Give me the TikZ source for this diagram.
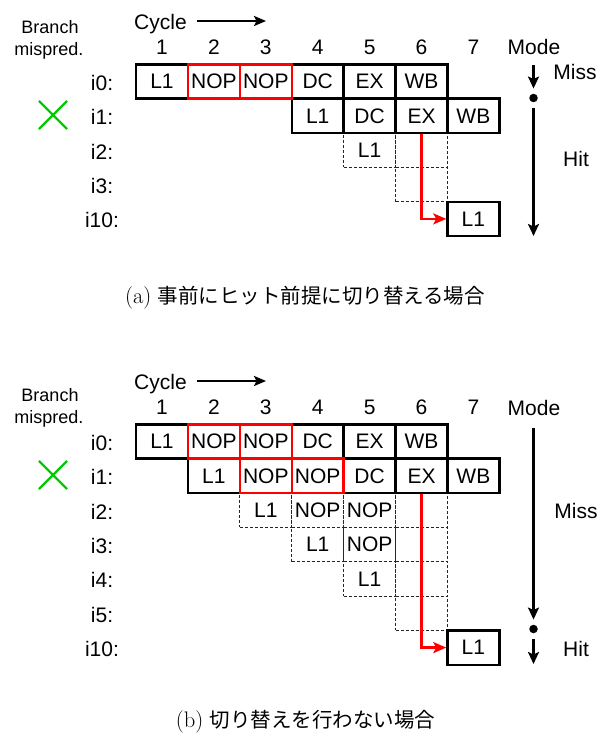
\documentclass[tikz,border=0pt]{standalone}
\usepackage{fontspec}
\newfontfamily\arial{Liberation Sans}
\newfontfamily\cjk{Noto Sans CJK JP}
\usetikzlibrary{arrows.meta,shapes.misc}
\definecolor{xred}{RGB}{255,0,0}
\definecolor{xgreen}{RGB}{0,204,0}
\tikzset{
  cell/.style={draw=black, line width=2.4pt, minimum width=51.9pt, minimum height=34.35pt, inner sep=0pt},
  redcell/.style={cell, draw=xred},
  dcell/.style={draw=black!85, line width=1pt, dash pattern=on 3pt off 2pt, minimum width=51.9pt, minimum height=34.35pt, inner sep=0pt},
  lbl/.style={anchor=base, inner sep=0pt},
  smalllbl/.style={anchor=base, inner sep=0pt, font=\arial\fontsize{18}{22}\selectfont},
  marr/.style={line width=2.3pt, -{Stealth[length=12pt,width=11pt,inset=2.5pt]}},
  carr/.style={line width=2.3pt, -{Stealth[length=12pt,width=10pt,inset=2.5pt]}},
  rarr/.style={line width=2.3pt, draw=xred, -{Stealth[length=13pt,width=11pt,inset=3pt]}},
  mdot/.style={circle, fill=black, inner sep=0pt, minimum size=8.5pt},
  xmark/.style={cross out, draw=xgreen, line width=2.2pt, minimum size=26pt, inner sep=0pt},
  capt/.style={inner sep=0pt, font=\fontsize{20.5}{24}\selectfont}
}
\newcommand{\capsub}[1]{{\rmfamily\fontsize{22.5}{24}\selectfont #1}}
\begin{document}
\begin{tikzpicture}[x=1pt, y=-1pt, font=\arial\fontsize{21}{25}\selectfont]
\useasboundingbox (0,0) rectangle (608,735);
% ================= (a) =================
\begin{scope}
\node[smalllbl] (tbr1) at (50,33.3) {Branch};
\node[smalllbl] (tbr2) at (49,55.5) {mispred.};
\node[lbl] (tcyc) at (160.5,29.5) {Cycle};
\coordinate (tcA) at (197,21);
\coordinate (tcB) at (266,21);
\draw[carr] (tcA) -- (tcB);
\foreach \c in {1,...,7} \node[lbl] (tn\c) at ({162+(\c-1)*51.9},54.5) {\c};
\node[lbl] (tmode) at (534,55) {Mode};
\foreach \r/\t in {0/i0:,1/i1:,2/i2:,3/i3:,4/i10:}
  \node[lbl] (tl\r) at (102,{81.5+\r*34.35+9}) {\t};
\node[xmark] (tx) at (53,115) {};
\foreach \r/\c/\t in {2/5/L1,2/6/,3/6/}
  \node[dcell] (t-\r-\c) at ({162+(\c-1)*51.9},{81.5+\r*34.35}) {\t};
\foreach \r/\c/\t in {0/1/L1,0/4/DC,0/5/EX,0/6/WB,1/4/L1,1/5/DC,1/6/EX,1/7/WB,4/7/L1}
  \node[cell] (t-\r-\c) at ({162+(\c-1)*51.9},{81.5+\r*34.35}) {\t};
\foreach \r/\c/\t in {0/2/NOP,0/3/NOP}
  \node[redcell] (t-\r-\c) at ({162+(\c-1)*51.9},{81.5+\r*34.35}) {\t};
\draw[rarr] (t-1-6.south) |- (t-4-7.west);
\coordinate (tma) at (533.5,65);
\node[mdot] (tdot) at (533.5,98) {};
\coordinate (tmb) at (533.5,236);
\draw[marr, shorten >=5pt] (tma) -- (tdot.north);
\draw[marr, shorten <=6pt] (tdot.south) -- (tmb);
\node[lbl] (tmiss) at (575,80) {Miss};
\node[lbl] (thit) at (576,167) {Hit};
\node[capt] (capa) at (305,298) {\capsub{(a)} {\cjk 事前にヒット前提に切り替える場合}};
\end{scope}
% ================= (b) =================
\begin{scope}
\node[smalllbl] (bbr1) at (50,401.7) {Branch};
\node[smalllbl] (bbr2) at (49,423.5) {mispred.};
\node[lbl] (bcyc) at (160.5,389.5) {Cycle};
\coordinate (bcA) at (197,381);
\coordinate (bcB) at (266,381);
\draw[carr] (bcA) -- (bcB);
\foreach \c in {1,...,7} \node[lbl] (bn\c) at ({162+(\c-1)*51.9},414.5) {\c};
\node[lbl] (bmode) at (534,415) {Mode};
\foreach \r/\t in {0/i0:,1/i1:,2/i2:,3/i3:,4/i4:,5/i5:,6/i10:}
  \node[lbl] (bl\r) at (102,{441.5+\r*34.35+9}) {\t};
\node[xmark] (bx) at (53,475) {};
\foreach \r/\c/\t in {2/3/L1,2/4/NOP,2/5/NOP,2/6/,3/4/L1,3/5/NOP,3/6/,4/5/L1,4/6/,5/6/}
  \node[dcell] (b-\r-\c) at ({162+(\c-1)*51.9},{441.5+\r*34.35}) {\t};
\foreach \r/\c/\t in {0/1/L1,0/4/DC,0/5/EX,0/6/WB,1/2/L1,1/5/DC,1/6/EX,1/7/WB,6/7/L1}
  \node[cell] (b-\r-\c) at ({162+(\c-1)*51.9},{441.5+\r*34.35}) {\t};
\foreach \r/\c/\t in {0/2/NOP,0/3/NOP,1/3/NOP,1/4/NOP}
  \node[redcell] (b-\r-\c) at ({162+(\c-1)*51.9},{441.5+\r*34.35}) {\t};
\draw[rarr] (b-1-6.south) |- (b-6-7.west);
\coordinate (bma) at (533.5,428);
\node[mdot] (bdot) at (533.5,629) {};
\coordinate (bmb) at (533.5,664);
\draw[marr, shorten >=5pt] (bma) -- (bdot.north);
\draw[marr, shorten <=6pt] (bdot.south) -- (bmb);
\node[lbl] (bmiss) at (576,518) {Miss};
\node[lbl] (bhit) at (576,656) {Hit};
\node[capt] (capb) at (305.5,722) {\capsub{(b)} {\cjk 切り替えを行わない場合}};
\end{scope}
\end{tikzpicture}
\end{document}
